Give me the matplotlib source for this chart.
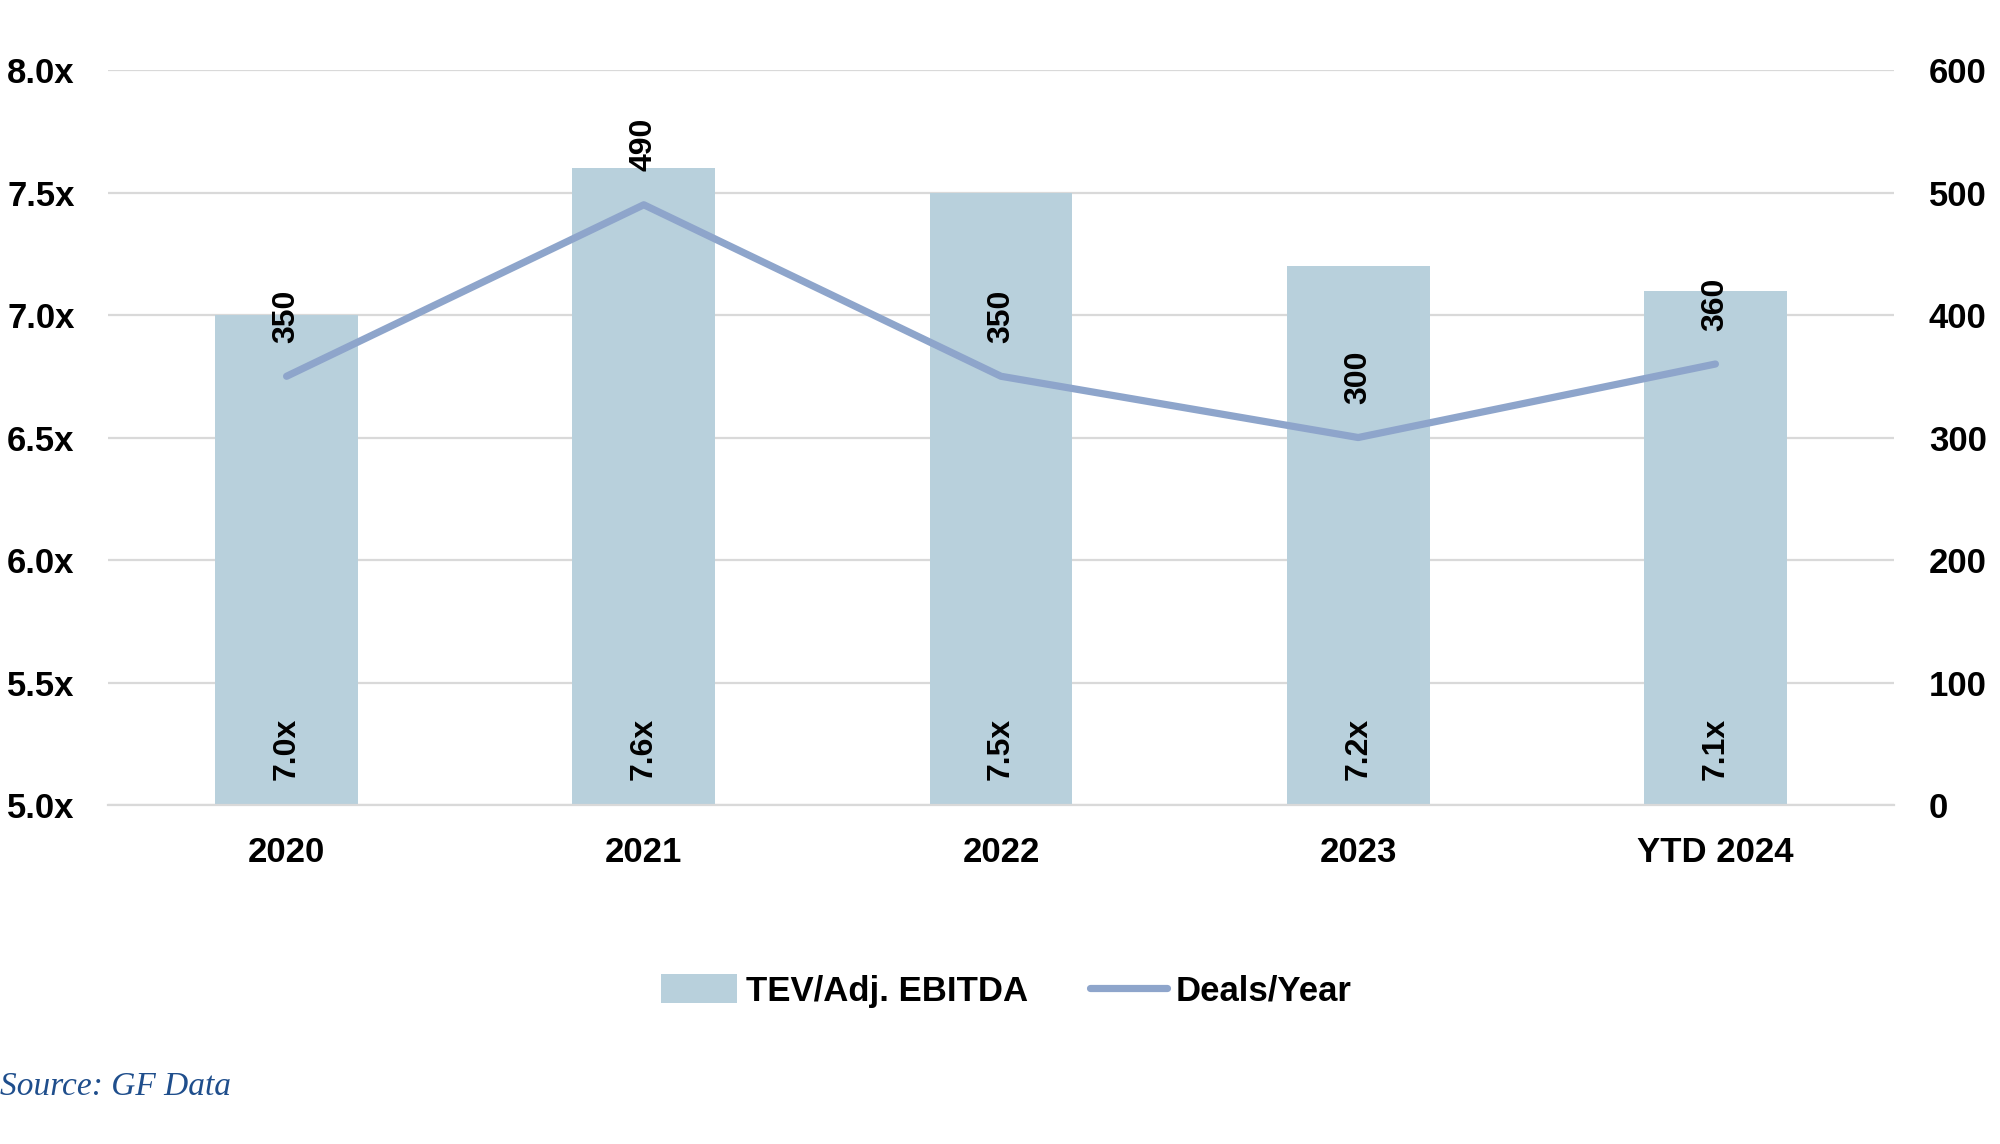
import numpy as np
import matplotlib
matplotlib.use("Agg")
import matplotlib.pyplot as plt

# Data
years = ["2020", "2021", "2022", "2023", "YTD 2024"]
tev_ebitda = [7.0, 7.6, 7.5, 7.2, 7.1]
deals_per_year = [350, 490, 350, 300, 360]
left_ticks = [5.0, 5.5, 6.0, 6.5, 7.0, 7.5, 8.0]
right_ticks = [0, 100, 200, 300, 400, 500, 600]

bar_color = "#b8d0dc"
line_color = "#8ea5cb"
grid_color = "#d9d9d9"

plt.rcParams["font.family"] = ["Liberation Sans", "DejaVu Sans"]
plt.rcParams["font.weight"] = "bold"

fig = plt.figure(figsize=(20, 11.44), dpi=100)
ax = fig.add_axes([0.054, 0.2963, 0.893, 0.6425])
ax2 = ax.twinx()

x = np.arange(len(years))
bars = ax.bar(x, tev_ebitda, width=0.4, color=bar_color, zorder=2,
              label="TEV/Adj. EBITDA")
ax.set_ylim(5.0, 8.0)
ax.set_xlim(-0.5, len(years) - 0.5)
ax.set_yticks(left_ticks)
ax.set_yticklabels(["{:.1f}x".format(t) for t in left_ticks])
ax.set_xticks(x)
ax.set_xticklabels(years)
ax.yaxis.grid(True, color=grid_color, linewidth=1.6, zorder=0)
ax.set_axisbelow(True)

for s in ["top", "right", "left"]:
    ax.spines[s].set_visible(False)
    ax2.spines[s].set_visible(False)
ax.spines["bottom"].set_color(grid_color)
ax.spines["bottom"].set_linewidth(1.6)
ax2.spines["bottom"].set_visible(False)

ax.tick_params(axis="both", length=0, labelsize=25)
ax.tick_params(axis="y", pad=24)
ax.tick_params(axis="x", pad=22)

# bar value labels near the base
for xi, v in zip(x, tev_ebitda):
    ax.annotate("{:.1f}x".format(v), (xi, 5.0), xytext=(0, 18),
                textcoords="offset points", rotation=90, ha="center",
                va="bottom", fontsize=23, fontweight="bold", zorder=4)

line, = ax2.plot(x, deals_per_year, color=line_color, linewidth=5.2,
                 solid_capstyle="round", zorder=3, label="Deals/Year")
ax2.set_ylim(0, 600)
ax2.set_yticks(right_ticks)
ax2.set_yticklabels([str(t) for t in right_ticks])
ax2.tick_params(axis="y", length=0, labelsize=25, pad=25)

for xi, v in zip(x, deals_per_year):
    ax2.annotate(str(v), (xi, v), xytext=(0, 24), textcoords="offset points",
                 rotation=90, ha="center", va="bottom", fontsize=23,
                 fontweight="bold", zorder=4)

fig.legend([bars, line], ["TEV/Adj. EBITDA", "Deals/Year"],
           loc="center", bbox_to_anchor=(0.503, 0.1337), ncol=2,
           frameon=False, fontsize=25, handlelength=2.2, handleheight=0.9,
           handletextpad=0.25, columnspacing=1.8)

fig.text(0.0, 0.05, "Source: GF Data", fontsize=24, style="italic",
         fontweight="normal", family=["Liberation Serif", "DejaVu Serif"],
         color="#1f4e8c", ha="left", va="center")

fig.savefig("out.png", dpi=100)
